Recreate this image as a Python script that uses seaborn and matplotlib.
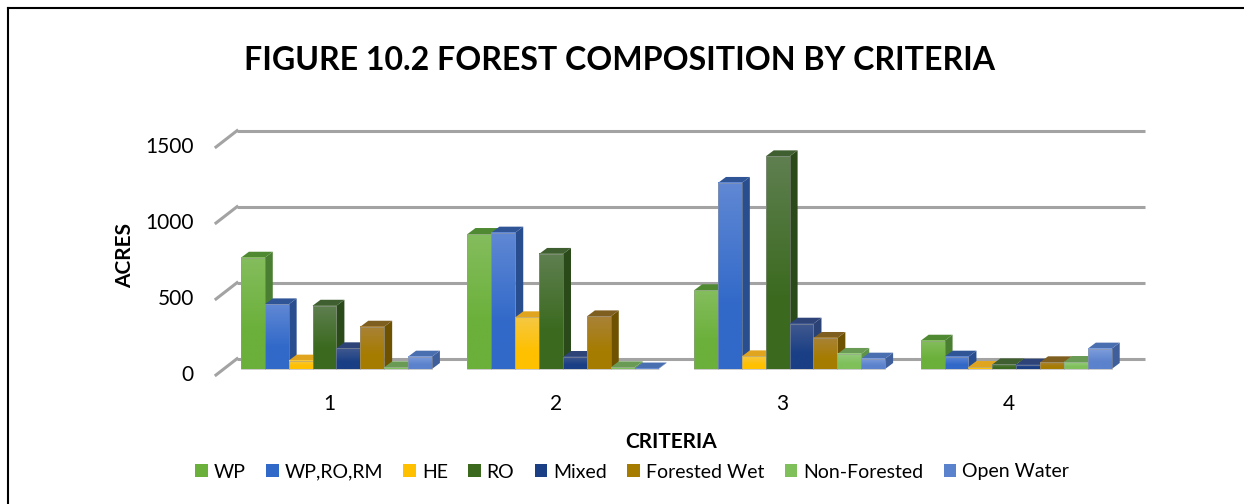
import numpy as np
import pandas as pd
import seaborn as sns
import matplotlib.pyplot as plt
from matplotlib.colors import to_rgb
from matplotlib.lines import Line2D
from matplotlib.patches import Polygon, Rectangle
from matplotlib.transforms import ScaledTranslation

# Valores (acres por critério)
criteria = ['1', '2', '3', '4']
wp = [732, 888, 518, 186]
wp_ro_rm = [425, 897, 1224, 81]
he = [55, 340, 83, 13]
ro = [416, 757, 1399, 30]
mixed = [136, 79, 298, 28]
forested_wet = [278, 346, 204, 44]
non_forested = [11, 11, 99, 46]
open_water = [81, 3, 68, 134]

covers = ['WP', 'WP,RO,RM', 'HE', 'RO', 'Mixed', 'Forested Wet', 'Non-Forested', 'Open Water']
series = [wp, wp_ro_rm, he, ro, mixed, forested_wet, non_forested, open_water]

# cor de baixo, cor de cima, lateral, topo
base_colors = ['#6BB03A', '#3169C9', '#FFC000', '#3B6A1F', '#1A3F85', '#A67C00', '#7FC05A', '#5B82CC']
light_colors = ['#84BD5D', '#6088D4', '#F5C842', '#5F7F50', '#41598F', '#A98238', '#95CB7C', '#7F9EDD']
side_colors = ['#4A7E30', '#284E90', '#C58F10', '#2A4A1A', '#2B4277', '#6E5200', '#5F9448', '#3F5F9C']
top_colors = ['#4F8A33', '#2F5597', '#E0A41F', '#3F5F30', '#2E4478', '#7F5F20', '#6A9B55', '#4A6FB0']

rows = []
for cover, vals in zip(covers, series):
    for c, v in zip(criteria, vals):
        rows.append({'Criteria': c, 'Cover': cover, 'Acres': v})
df = pd.DataFrame(rows)

plt.rcParams['font.family'] = ['Lato', 'DejaVu Sans']

W, H = 1244, 504
fig = plt.figure(figsize=(W / 100, H / 100), dpi=100)

# area do gráfico em pixels, com escala linear
left, right, top, bottom = 216, 1145, 130, 375
ax = fig.add_axes([left / W, (H - bottom) / H, (right - left) / W, (bottom - top) / H])

sns.barplot(data=df, x='Criteria', y='Acres', hue='Cover', hue_order=covers,
            palette=base_colors, saturation=1, width=0.843, gap=0, errorbar=None, ax=ax)

px_x = 226.6      # pixels por categoria
px_y = 0.152      # pixels por acre
ax.set_xlim((left - 336.4) / px_x, (right - 336.4) / px_x)
ax.set_ylim((369 - bottom) / px_y, (369 - top) / px_y)
xlim, ylim = ax.get_xlim(), ax.get_ylim()

# profundidade do 3D
dx, dy = 8 / px_x, 6 / px_y
back_y, back_x0 = 10.3 / px_y, xlim[0] + 21 / px_x
front_drop = 6 / px_y

# Grade na parede do fundo + linha inclinada até a frente
ticks = [0, 500, 1000, 1500]
grid = '#A3A3A3'
for t in ticks:
    ax.plot([back_x0, xlim[1]], [t + back_y, t + back_y], color=grid, lw=2.2, zorder=1,
            solid_capstyle='butt', clip_on=False)
    ax.plot([xlim[0], back_x0], [t - front_drop, t + back_y], color=grid, lw=2.2, zorder=1,
            clip_on=False)

# Faces 3D de cada barra, da esquerda para a direita
bars = []
for i, cont in enumerate(ax.containers):
    for bar in cont:
        bars.append((bar.get_x(), i, bar))
bars.sort(key=lambda b: b[0])

for n, (x, i, bar) in enumerate(bars):
    w, h = bar.get_width(), bar.get_height()
    z = 3 + n
    ax.add_patch(Polygon([(x + w, 0), (x + w + dx, dy), (x + w + dx, h + dy), (x + w, h)],
                         closed=True, fc=side_colors[i], ec='none', zorder=z))
    ax.add_patch(Polygon([(x, h), (x + w, h), (x + w + dx, h + dy), (x + dx, h + dy)],
                         closed=True, fc=top_colors[i], ec='none', zorder=z))
    bar.set_zorder(z + 0.1)
    lo, hi = np.array(to_rgb(base_colors[i])), np.array(to_rgb(light_colors[i]))
    frac = np.clip(np.linspace(1, -0.5, 64), 0, 1)[:, None, None]
    grad = lo[None, None, :] * (1 - frac) + hi[None, None, :] * frac
    ax.imshow(grad, extent=[x, x + w, 0, h], origin='upper', aspect='auto',
              interpolation='bilinear', zorder=z + 0.2)
    ax.add_patch(Rectangle((x, 0), w, h, fc='none', ec='#9A9A9A', lw=0.5, alpha=0.7, zorder=z + 0.3))

ax.set_xlim(xlim)
ax.set_ylim(ylim)
ax.set_aspect('auto')

sns.despine(ax=ax, left=True, bottom=True)
ax.set_facecolor('none')
ax.set_yticks(ticks)
ax.set_yticklabels([str(t) for t in ticks])
ax.tick_params(axis='y', length=0, pad=16, labelsize=15)
ax.tick_params(axis='x', length=0, pad=14, labelsize=15)
shift = ScaledTranslation(0, -3 / 72, fig.dpi_scale_trans)
for lab in ax.get_yticklabels():
    lab.set_transform(lab.get_transform() + shift)

# o eixo x fica na posição dos rótulos da frente (centros deslocados do 3D)
shift_x = ScaledTranslation(-7 / 100, 0, fig.dpi_scale_trans)
for lab in ax.get_xticklabels():
    lab.set_transform(lab.get_transform() + shift_x)

ax.set_xlabel('')
ax.set_ylabel('')
fig.text(125 / W, 1 - 256 / H, 'ACRES', rotation=90, fontsize=15, fontweight='bold', ha='center', va='center')
fig.text(671 / W, 1 - 442 / H, 'CRITERIA', fontsize=15, fontweight='bold', ha='center', va='center')
fig.text(620 / W, 1 - 60 / H, 'FIGURE 10.2 FOREST COMPOSITION BY CRITERIA', fontsize=23.1,
         fontweight='bold', ha='center', va='center')

sns.move_legend(ax, 'center', bbox_to_anchor=(632 / W, 1 - 472 / H),
                bbox_transform=fig.transFigure, ncol=8, frameon=False, title=None,
                fontsize=14, handlelength=0.65, handleheight=0.65, handletextpad=0.3,
                columnspacing=1.05, borderpad=0)

# moldura: só em cima e à esquerda, até a borda da imagem
fig.add_artist(Line2D([8 / W, 1], [1 - 8 / H, 1 - 8 / H], transform=fig.transFigure, color='black', lw=1.5))
fig.add_artist(Line2D([8 / W, 8 / W], [0, 1 - 8 / H], transform=fig.transFigure, color='black', lw=1.5))

fig.savefig('out.png', dpi=100)
